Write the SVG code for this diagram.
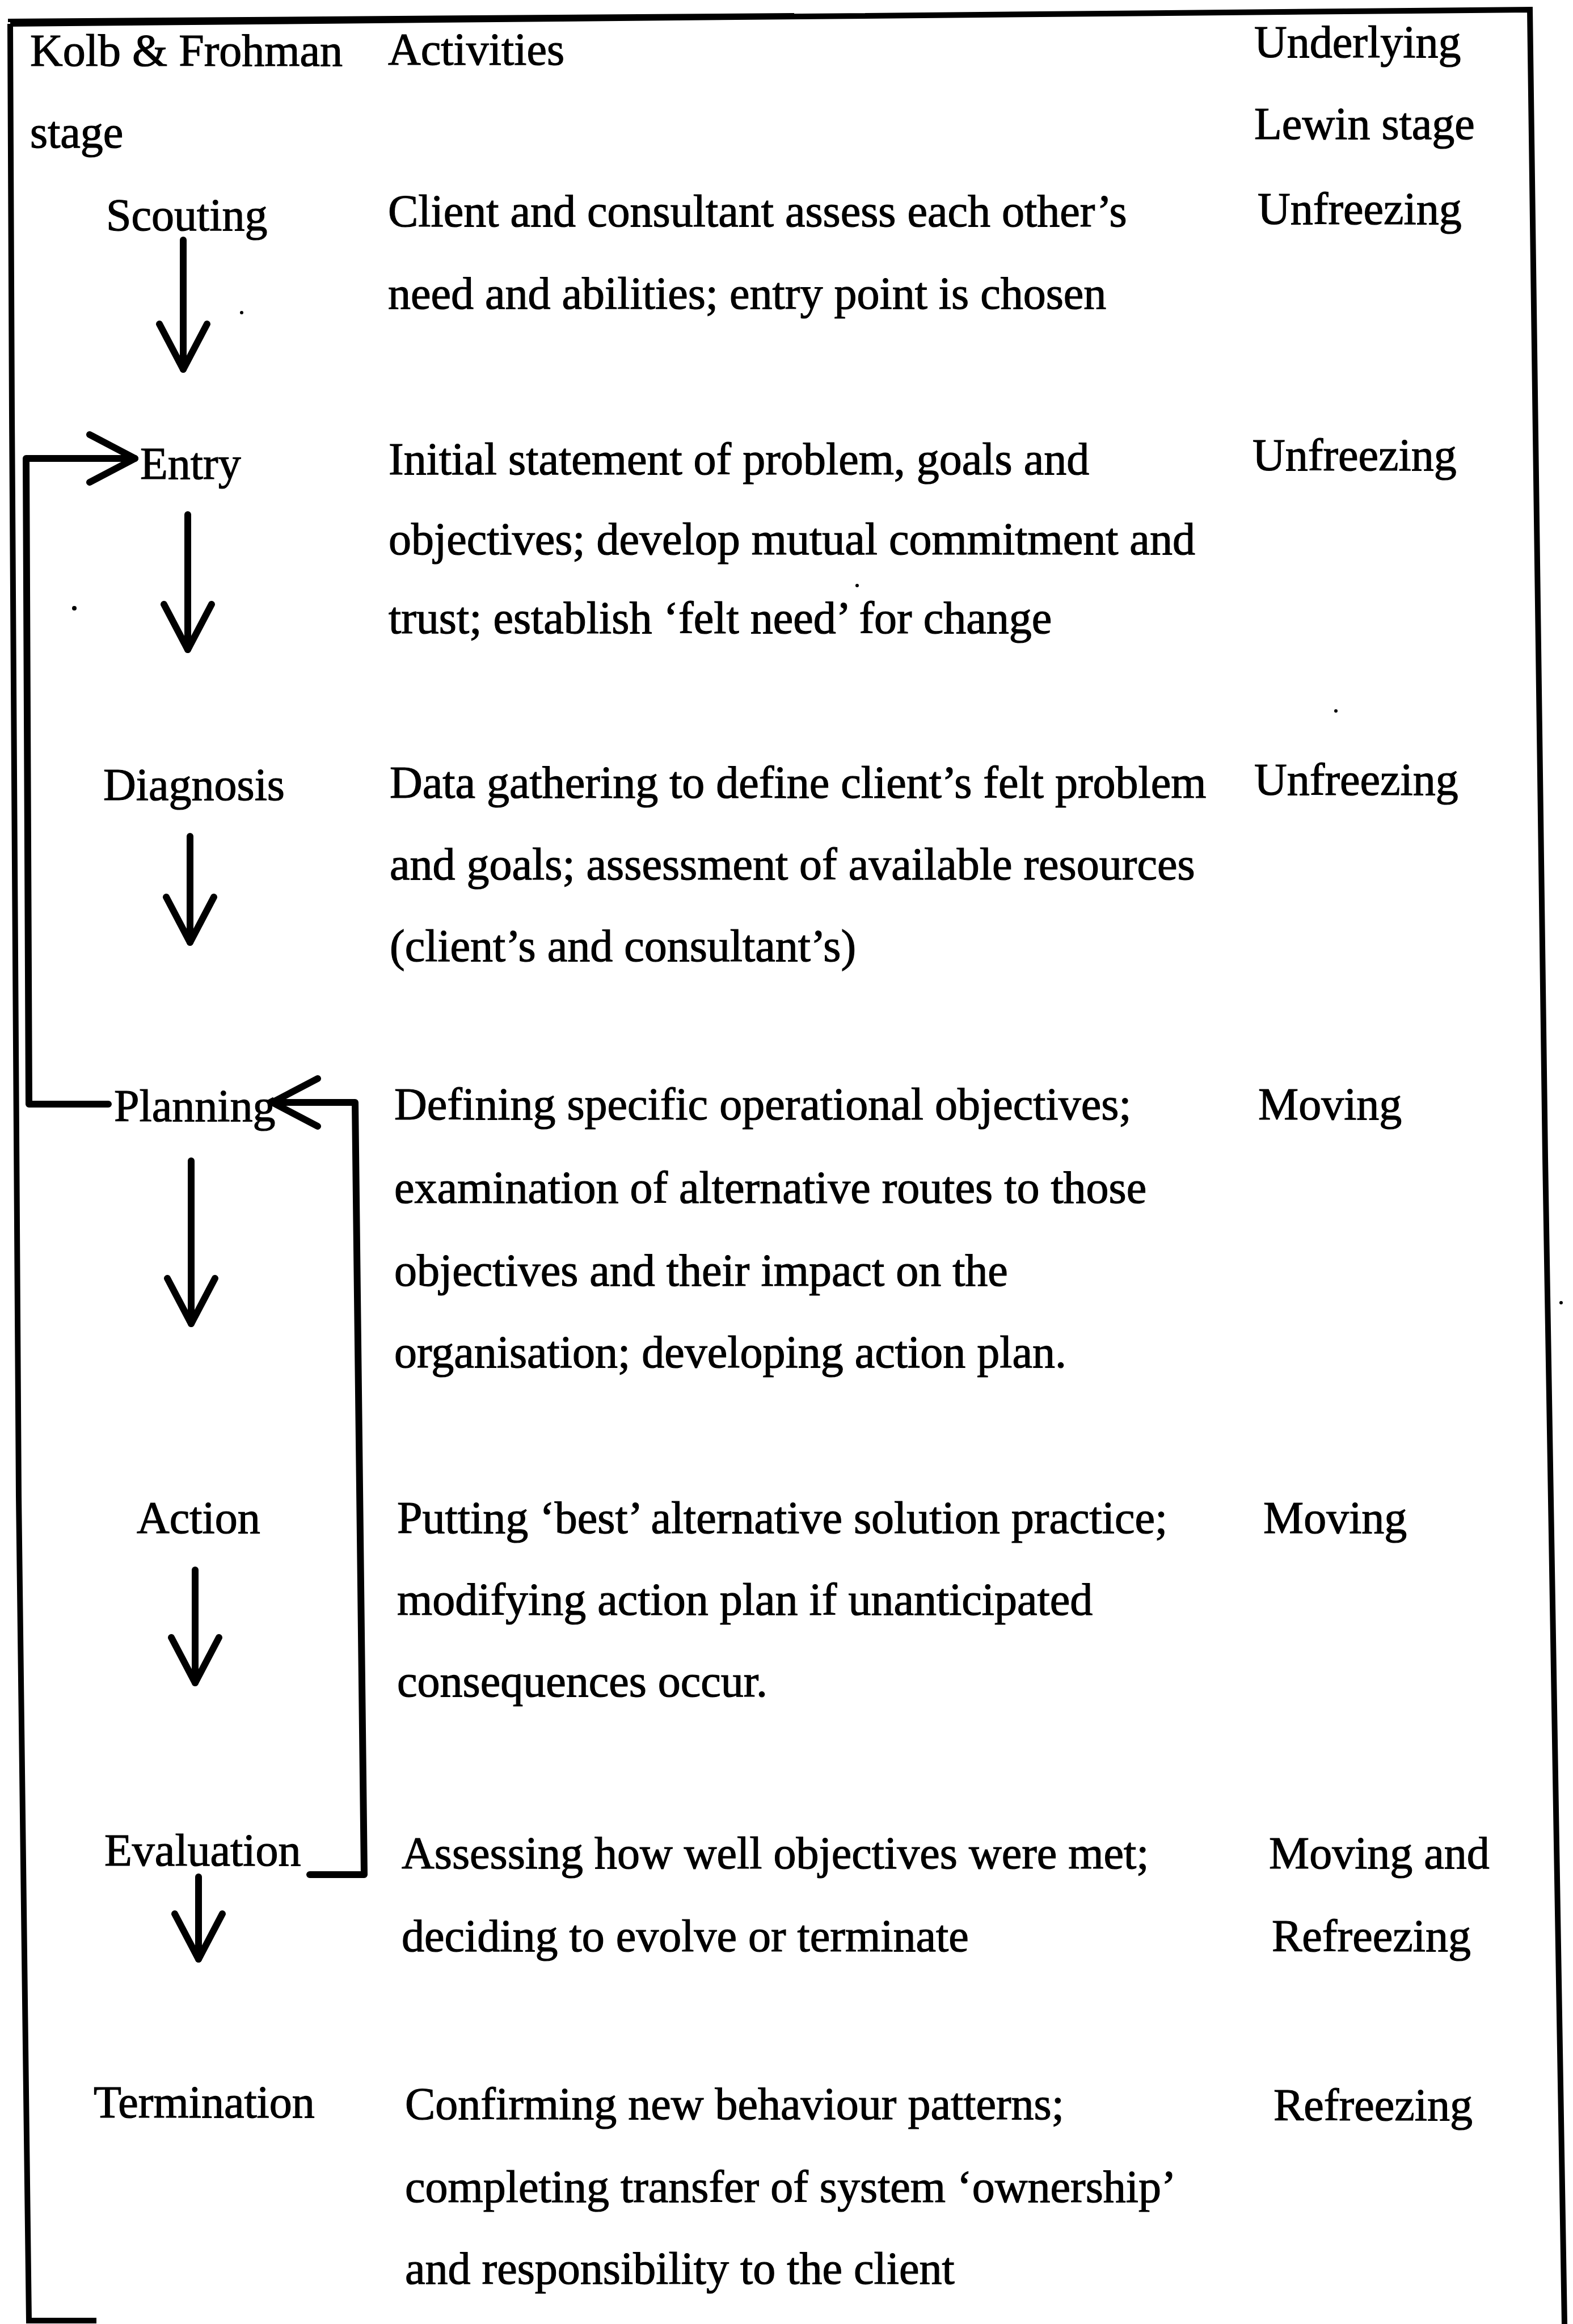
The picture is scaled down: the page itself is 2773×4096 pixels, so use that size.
<svg xmlns="http://www.w3.org/2000/svg" width="2773" height="4096" viewBox="0 0 2773 4096">
<style>
text{font-family:"Liberation Serif","Times New Roman",serif;font-size:80px;fill:#000;stroke:#000;stroke-width:1.2}
.ln{fill:none;stroke:#000;stroke-width:12;stroke-linecap:round;stroke-linejoin:round}
.bd{fill:none;stroke:#000;stroke-width:10;stroke-linejoin:miter}
</style>
<defs>
<marker id="ah" markerUnits="userSpaceOnUse" markerWidth="200" markerHeight="200" viewBox="-100 -100 200 200" refX="0" refY="0" orient="auto" overflow="visible">
<path d="M-80,-42 L0,0 L-80,42" fill="none" stroke="#000" stroke-width="12" stroke-linecap="round" stroke-linejoin="round"/>
</marker>
</defs>
<rect width="2773" height="4096" fill="#fff"/>
<g id="frame">
<path class="bd" d="M18,42 L2697,17 L2724,2040 L2758,4096 M21,730 L18,42 M21,730 L33,2637 L51,4090 L170,4090"/>
<path d="M14,36 L1400,26" stroke="#000" stroke-width="6" fill="none"/>
</g>
<g id="header">
<text x="53" y="116">Kolb &amp; Frohman</text>
<text x="53" y="260">stage</text>
<text x="684" y="114">Activities</text>
<text x="2211" y="101">Underlying</text>
<text x="2211" y="245">Lewin stage</text>
</g>
<g id="scouting">
<text x="187" y="406">Scouting</text>
<text x="684" y="399">Client and consultant assess each other’s</text>
<text x="684" y="544">need and abilities; entry point is chosen</text>
<text x="2217" y="395">Unfreezing</text>
</g>
<g id="entry">
<text x="247" y="844">Entry</text>
<text x="685" y="836">Initial statement of problem, goals and</text>
<text x="685" y="977">objectives; develop mutual commitment and</text>
<text x="685" y="1116">trust; establish ‘felt need’ for change</text>
<text x="2208" y="829">Unfreezing</text>
</g>
<g id="diagnosis">
<text x="182" y="1410">Diagnosis</text>
<text x="687" y="1406">Data gathering to define client’s felt problem</text>
<text x="687" y="1550">and goals; assessment of available resources</text>
<text x="687" y="1694">(client’s and consultant’s)</text>
<text x="2211" y="1401">Unfreezing</text>
</g>
<g id="planning">
<text x="201" y="1976">Planning</text>
<text x="695" y="1973">Defining specific operational objectives;</text>
<text x="695" y="2120">examination of alternative routes to those</text>
<text x="695" y="2266">objectives and their impact on the</text>
<text x="695" y="2410">organisation; developing action plan.</text>
<text x="2218" y="1973">Moving</text>
</g>
<g id="action">
<text x="241" y="2702">Action</text>
<text x="700" y="2702">Putting ‘best’ alternative solution practice;</text>
<text x="700" y="2846">modifying action plan if unanticipated</text>
<text x="700" y="2990">consequences occur.</text>
<text x="2227" y="2702">Moving</text>
</g>
<g id="evaluation">
<text x="184" y="3288">Evaluation</text>
<text x="708" y="3293">Assessing how well objectives were met;</text>
<text x="708" y="3439">deciding to evolve or terminate</text>
<text x="2237" y="3293">Moving and</text>
<text x="2242" y="3439">Refreezing</text>
</g>
<g id="termination">
<text x="165" y="3732">Termination</text>
<text x="714" y="3735">Confirming new behaviour patterns;</text>
<text x="714" y="3881">completing transfer of system ‘ownership’</text>
<text x="714" y="4025">and responsibility to the client</text>
<text x="2245" y="3737">Refreezing</text>
</g>
<g id="connectors">
<path class="ln" d="M323,423 L323,651" marker-end="url(#ah)"/>
<path class="ln" d="M331,907 L331,1145" marker-end="url(#ah)"/>
<path class="ln" d="M335,1474 L335,1661" marker-end="url(#ah)"/>
<path class="ln" d="M337,2046 L337,2333" marker-end="url(#ah)"/>
<path class="ln" d="M344,2767 L344,2966" marker-end="url(#ah)"/>
<path class="ln" d="M350,3308 L350,3453" marker-end="url(#ah)"/>
<path class="ln" d="M191,1946 L51,1946 L46,808 L238,808" marker-end="url(#ah)"/>
<path class="ln" d="M546,3304 L642,3304 L626,1943 L480,1943" marker-end="url(#ah)"/>
</g>
<g id="specks" fill="#000">
<circle cx="426" cy="551" r="3"/>
<circle cx="131" cy="1072" r="4"/>
<circle cx="1511" cy="1032" r="3"/>
<circle cx="2355" cy="1253" r="3"/>
<circle cx="2752" cy="2296" r="3"/>
</g>
</svg>
